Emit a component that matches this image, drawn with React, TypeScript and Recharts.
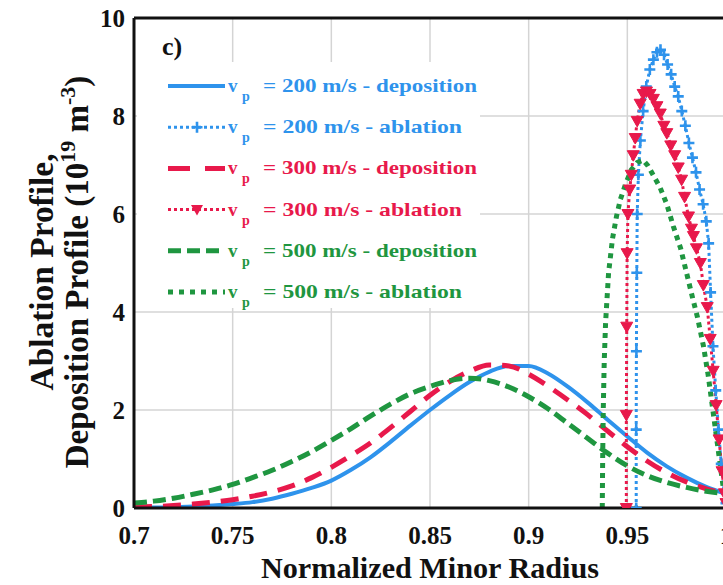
import React from 'react';
import { LineChart, Line, XAxis, YAxis, CartesianGrid } from 'recharts';

// normalized minor radius grid shared by the deposition profiles
const radius = [
  0.7, 0.71, 0.72, 0.73, 0.74, 0.75, 0.76, 0.77, 0.78, 0.79, 0.8, 0.81, 0.82, 0.83, 0.84, 0.85,
  0.86, 0.87, 0.88, 0.89, 0.9, 0.91, 0.92, 0.93, 0.94, 0.95, 0.96, 0.97, 0.98, 0.99, 1.0,
];

// deposition profiles (10^19 m^-3)
const dep200 = [
  0.01, 0.01, 0.02, 0.03, 0.05, 0.08, 0.12, 0.19, 0.29, 0.41, 0.56, 0.78, 1.04, 1.35, 1.68, 2.0,
  2.3, 2.57, 2.78, 2.9, 2.9, 2.74, 2.47, 2.15, 1.8, 1.46, 1.13, 0.85, 0.62, 0.43, 0.29,
];
const dep300 = [
  0.02, 0.03, 0.05, 0.08, 0.12, 0.17, 0.24, 0.33, 0.45, 0.62, 0.83, 1.07, 1.33, 1.64, 1.97, 2.3,
  2.58, 2.79, 2.92, 2.9, 2.73, 2.48, 2.2, 1.9, 1.57, 1.25, 0.96, 0.72, 0.53, 0.39, 0.29,
];
const dep500 = [
  0.1, 0.14, 0.2, 0.28, 0.37, 0.48, 0.62, 0.77, 0.95, 1.15, 1.38, 1.62, 1.88, 2.12, 2.33, 2.48,
  2.6, 2.65, 2.6, 2.47, 2.27, 2.02, 1.72, 1.42, 1.12, 0.86, 0.66, 0.52, 0.42, 0.34, 0.29,
];

// ablation profiles as [radius, value]
const abl200 = [
  [0.9545, 0], [0.9545, 1.6], [0.9546, 3.2], [0.9548, 4.8], [0.955, 6.0], [0.9556, 6.8],
  [0.9566, 7.5], [0.958, 8.1], [0.9596, 8.6], [0.9614, 8.95], [0.9632, 9.15], [0.965, 9.3],
  [0.9668, 9.35], [0.9686, 9.25], [0.9704, 9.05], [0.9722, 8.85], [0.974, 8.6], [0.9758, 8.4],
  [0.9776, 8.1], [0.9794, 7.8], [0.9812, 7.45], [0.983, 7.15], [0.9848, 6.85], [0.9866, 6.5],
  [0.9884, 6.2], [0.99, 5.85], [0.9912, 5.4], [0.9922, 4.4], [0.9934, 3.3], [0.9948, 2.4],
  [0.9962, 1.6], [0.9976, 0.9], [0.999, 0.35], [1.0, 0.1],
];
const abl300 = [
  [0.9495, 0], [0.9495, 1.9], [0.9497, 3.7], [0.9499, 5.2], [0.9503, 6.0], [0.9512, 6.5],
  [0.952, 6.8], [0.953, 7.2], [0.954, 7.55], [0.955, 7.9], [0.9565, 8.25], [0.958, 8.45],
  [0.9597, 8.5], [0.9615, 8.45], [0.9632, 8.35], [0.965, 8.2], [0.9667, 8.05], [0.9685, 7.8],
  [0.97, 7.65], [0.972, 7.4], [0.974, 7.2], [0.9758, 6.95], [0.9775, 6.7], [0.979, 6.35],
  [0.981, 5.95], [0.9825, 5.7], [0.9835, 5.55], [0.985, 5.3], [0.987, 5.0], [0.9885, 4.55],
  [0.9905, 4.1], [0.992, 3.45], [0.9935, 2.8], [0.995, 2.1], [0.9965, 1.4], [0.998, 0.75],
  [0.9992, 0.3], [1.0, 0.1],
];
const abl500 = [
  [0.9373, 0], [0.9375, 1.0], [0.9378, 2.0], [0.9383, 3.0], [0.939, 3.8], [0.9405, 4.8],
  [0.9425, 5.5], [0.9445, 5.95], [0.9465, 6.3], [0.949, 6.6], [0.952, 6.9], [0.955, 7.05],
  [0.958, 7.1], [0.9605, 6.98], [0.963, 6.8], [0.9665, 6.55], [0.97, 6.2], [0.9733, 5.75],
  [0.977, 5.3], [0.98, 4.8], [0.983, 4.3], [0.9855, 3.9], [0.9886, 3.3], [0.991, 2.7],
  [0.993, 2.1], [0.995, 1.5], [0.997, 0.9], [0.9985, 0.45], [1.0, 0.25],
];

const xMajor = [0.7, 0.75, 0.8, 0.85, 0.9, 0.95, 1];
const xMinor = [
  0.7, 0.71, 0.72, 0.73, 0.74, 0.75, 0.76, 0.77, 0.78, 0.79, 0.8, 0.81, 0.82, 0.83, 0.84, 0.85,
  0.86, 0.87, 0.88, 0.89, 0.9, 0.91, 0.92, 0.93, 0.94, 0.95, 0.96, 0.97, 0.98, 0.99, 1.0,
];
const yMajor = [0, 2, 4, 6, 8, 10];
const yMinor = [0, 0.5, 1, 1.5, 2, 2.5, 3, 3.5, 4, 4.5, 5, 5.5, 6, 6.5, 7, 7.5, 8, 8.5, 9, 9.5, 10];

const BLUE = '#2e93ec';
const RED = '#e8194b';
const GREEN = '#1f9640';
const INK = '#111';
const FONT = "'Liberation Serif', 'DejaVu Serif', 'Times New Roman', serif";

const fromGrid = (ys: number[]) => radius.map((x, i) => ({ x, y: ys[i] }));
const fromPairs = (list: number[][]) => list.map(([x, y]) => ({ x, y }));

const plusPath = (cx: number, cy: number) => `M${cx - 5.5},${cy}H${cx + 5.5}M${cx},${cy - 5.5}V${cy + 5.5}`;
const triPath = (cx: number, cy: number) => `M${cx - 6},${cy - 4.5}L${cx + 6},${cy - 4.5}L${cx},${cy + 6}Z`;

const PlusDot = (p: any) => {
  if (p.cx == null || p.cy == null) return <g key={p.index} />;
  return <path key={p.index} d={plusPath(p.cx, p.cy)} stroke={BLUE} strokeWidth={2.6} fill="none" />;
};
const TriDot = (p: any) => {
  if (p.cx == null || p.cy == null) return <g key={p.index} />;
  return <path key={p.index} d={triPath(p.cx, p.cy)} fill={RED} stroke={RED} strokeWidth={1} />;
};

const legendRows = [
  { label: '= 200 m/s - deposition', color: BLUE, dash: undefined, width: 4, mark: null, len: 214 },
  { label: '= 200 m/s - ablation', color: BLUE, dash: '3 3', width: 3, mark: 'plus', len: 199 },
  { label: '= 300 m/s - deposition', color: RED, dash: '22 15', width: 5, mark: null, len: 214 },
  { label: '= 300 m/s - ablation', color: RED, dash: '3 3', width: 3, mark: 'tri', len: 199 },
  { label: '= 500 m/s - deposition', color: GREEN, dash: '13 6', width: 5, mark: null, len: 214 },
  { label: '= 500 m/s - ablation', color: GREEN, dash: '5 6', width: 5, mark: null, len: 199 },
];

const tickLine = { stroke: INK, strokeWidth: 2.5 };
const tickText = { fontFamily: FONT, fontWeight: 700, fontSize: 25, fill: INK };

export default function App() {
  return (
    <div style={{ position: 'absolute', left: 0, top: 0, width: 723, height: 585, overflow: 'hidden', background: '#fff', fontFamily: FONT }}>
      <LineChart width={760} height={585} margin={{ top: 18, right: 34, bottom: 47, left: 74 }}>
        <CartesianGrid stroke="#d4d4d4" strokeWidth={1.5} />
        <XAxis
          type="number"
          dataKey="x"
          domain={[0.7, 1]}
          allowDataOverflow
          ticks={xMajor}
          interval={0}
          tickFormatter={(v) => String(v)}
          tick={tickText}
          tickLine={false}
          tickSize={0}
          tickMargin={18}
          axisLine={{ stroke: INK, strokeWidth: 3 }}
          height={30}
        />
        <YAxis
          type="number"
          domain={[0, 10]}
          allowDataOverflow
          ticks={yMajor}
          interval={0}
          tick={tickText}
          tickLine={false}
          tickSize={0}
          tickMargin={9}
          axisLine={{ stroke: INK, strokeWidth: 3 }}
          width={60}
        />
        {/* inward ticks on all four sides of the box */}
        <XAxis xAxisId="bMaj" type="number" domain={[0.7, 1]} allowDataOverflow ticks={xMajor} interval={0} mirror orientation="bottom" tick={false} axisLine={false} tickSize={12} tickLine={tickLine} />
        <XAxis xAxisId="bMin" type="number" domain={[0.7, 1]} allowDataOverflow ticks={xMinor} interval={0} mirror orientation="bottom" tick={false} axisLine={false} tickSize={6} tickLine={tickLine} />
        <XAxis xAxisId="tMaj" type="number" domain={[0.7, 1]} allowDataOverflow ticks={xMajor} interval={0} mirror orientation="top" tick={false} axisLine={{ stroke: INK, strokeWidth: 3 }} tickSize={12} tickLine={tickLine} />
        <XAxis xAxisId="tMin" type="number" domain={[0.7, 1]} allowDataOverflow ticks={xMinor} interval={0} mirror orientation="top" tick={false} axisLine={false} tickSize={6} tickLine={tickLine} />
        <YAxis yAxisId="lMaj" type="number" domain={[0, 10]} allowDataOverflow ticks={yMajor} interval={0} mirror orientation="left" tick={false} axisLine={false} tickSize={12} tickLine={tickLine} />
        <YAxis yAxisId="lMin" type="number" domain={[0, 10]} allowDataOverflow ticks={yMinor} interval={0} mirror orientation="left" tick={false} axisLine={false} tickSize={6} tickLine={tickLine} />
        <YAxis yAxisId="rMaj" type="number" domain={[0, 10]} allowDataOverflow ticks={yMajor} interval={0} mirror orientation="right" tick={false} axisLine={{ stroke: INK, strokeWidth: 3 }} tickSize={12} tickLine={tickLine} />
        <YAxis yAxisId="rMin" type="number" domain={[0, 10]} allowDataOverflow ticks={yMinor} interval={0} mirror orientation="right" tick={false} axisLine={false} tickSize={6} tickLine={tickLine} />

        <Line data={fromGrid(dep200)} dataKey="y" type="monotone" stroke={BLUE} strokeWidth={4} dot={false} isAnimationActive={false} />
        <Line data={fromPairs(abl200)} dataKey="y" type="linear" stroke={BLUE} strokeWidth={3} strokeDasharray="3 3" dot={PlusDot} isAnimationActive={false} />
        <Line data={fromGrid(dep300)} dataKey="y" type="monotone" stroke={RED} strokeWidth={5} strokeDasharray="18 11" dot={false} isAnimationActive={false} />
        <Line data={fromPairs(abl300)} dataKey="y" type="linear" stroke={RED} strokeWidth={3} strokeDasharray="3 3" dot={TriDot} isAnimationActive={false} />
        <Line data={fromGrid(dep500)} dataKey="y" type="monotone" stroke={GREEN} strokeWidth={5} strokeDasharray="13 6" dot={false} isAnimationActive={false} />
        <Line data={fromPairs(abl500)} dataKey="y" type="linear" stroke={GREEN} strokeWidth={5} strokeDasharray="5 5" dot={false} isAnimationActive={false} />
      </LineChart>

      <svg width={723} height={585} style={{ position: 'absolute', left: 0, top: 0, pointerEvents: 'none', fontFamily: FONT, fontWeight: 700 }}>
        {/* legend box */}
        <rect x={137} y={62} width={343} height={246} fill="#fff" />
        <text x={162} y={55} fontSize={26} fill={INK}>c)</text>
        {legendRows.map((r, i) => {
          const cy = 86 + i * 41.2;
          return (
            <g key={r.label + i}>
              <line x1={168} x2={225} y1={cy} y2={cy} stroke={r.color} strokeWidth={r.width} strokeDasharray={r.dash} />
              {r.mark === 'plus' && <path d={plusPath(197, cy)} stroke={r.color} strokeWidth={2.6} fill="none" />}
              {r.mark === 'tri' && <path d={triPath(197, cy)} fill={r.color} />}
              <text x={228} y={cy + 6} fontSize={19} fill={r.color}>v</text>
              <text x={242} y={cy + 15} fontSize={14} fill={r.color}>p</text>
              <text x={263} y={cy + 6} fontSize={19} fill={r.color} textLength={r.len} lengthAdjust="spacingAndGlyphs">
                {r.label}
              </text>
            </g>
          );
        })}

        {/* axis titles */}
        <text x={430} y={578} fontSize={30} textAnchor="middle" fill={INK} textLength={338} lengthAdjust="spacingAndGlyphs">
          Normalized Minor Radius
        </text>
        <text transform="translate(53,272) rotate(-90)" fontSize={33} textAnchor="middle" fill={INK} textLength={237} lengthAdjust="spacingAndGlyphs">
          Ablation Profile,
        </text>
        <text transform="translate(88,272) rotate(-90)" fontSize={33} textAnchor="middle" fill={INK}>
          Deposition Profile (10
          <tspan dy={-13} fontSize={22}>19</tspan>
          <tspan dy={13}> m</tspan>
          <tspan dy={-13} fontSize={22}>-3</tspan>
          <tspan dy={13}>)</tspan>
        </text>
      </svg>
    </div>
  );
}
